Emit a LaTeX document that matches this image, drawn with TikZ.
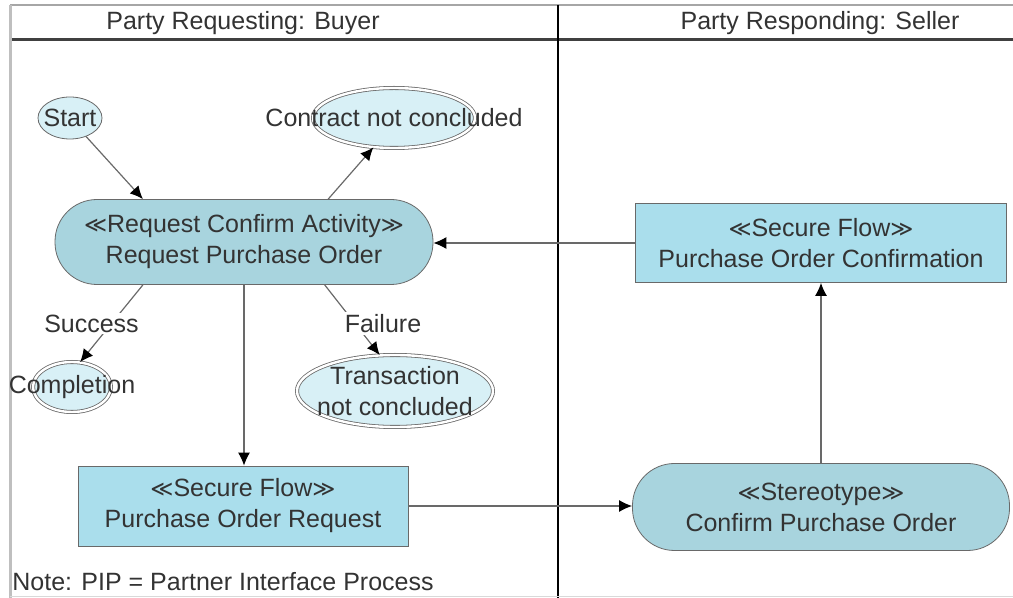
\documentclass[tikz,border=0pt]{standalone}
\usepackage{fontspec}
\setmainfont{Liberation Sans}
\newfontfamily\symfont{DejaVu Sans}
\usepackage{tikz}
\usetikzlibrary{arrows.meta, shapes.geometric, calc}
\definecolor{boxblue}{RGB}{170,222,236}
\definecolor{actblue}{RGB}{168,212,222}
\definecolor{endblue}{RGB}{216,240,246}
\definecolor{textgray}{RGB}{51,51,51}
\definecolor{linegray}{RGB}{105,105,105}
\newcommand{\stype}[1]{{\symfont\fontsize{11}{15.5}\selectfont ≪}#1{\symfont\fontsize{11}{15.5}\selectfont ≫}}

\begin{document}
\begin{tikzpicture}[
    x=0.5pt, y=-0.5pt,
    font=\fontsize{12.5}{15.5}\selectfont,
    every node/.style={text=textgray},
    flowbox/.style={rectangle, draw=linegray, fill=boxblue, align=center, inner sep=0pt},
    activity/.style={rectangle, rounded corners=21pt, draw=linegray, fill=actblue, align=center, inner sep=0pt},
    startstate/.style={ellipse, draw=linegray, fill=endblue, inner sep=0pt},
    endstate/.style={ellipse, draw=linegray, double=white, double distance=1.2pt, fill=endblue, inner sep=0pt},
    arrow/.style={draw=linegray, line width=0.6pt, -{Latex[length=6.5pt, width=6pt, color=black]}}
]
\useasboundingbox (0,0) rectangle (1013,598);

% Swimlanes
\draw[gray!70, line width=0.8pt] (10,5) -- (1013,5);
\draw[black!75, line width=1.5pt] (10,40) -- (1013,40);
\draw[gray!50, line width=1.5pt] (10,5) -- (10,598);
\draw[black, line width=0.7pt] (558,5) -- (558,598);
\draw[gray!30, line width=0.5pt] (10,597) -- (1013,597);
\node (buyer) at (243,23) {Party Requesting: Buyer};
\node (seller) at (820,23) {Party Responding: Seller};

% Buyer side
\node[startstate, minimum width=32pt, minimum height=21pt, label=center:Start] (start) at (70,118) {};
\node[endstate, minimum width=81pt, minimum height=30pt, label=center:Contract not concluded] (nocontract) at (394,118) {};
\node[activity, minimum width=189pt, minimum height=42.5pt] (act) at (244,242) {\stype{Request Confirm Activity}\\Request Purchase Order};
\node[endstate, minimum width=39pt, minimum height=25pt, label=center:Completion] (done) at (72,387) {};
\node[endstate, minimum width=98pt, minimum height=36pt, label={[align=center]center:Transaction\\not concluded}] (trans) at (395,391) {};
\node[flowbox, minimum width=165pt, minimum height=40pt] (poreq) at (243,506) {\stype{Secure Flow}\\Purchase Order Request};
\node[anchor=west, inner sep=1pt] (note) at (10,582) {Note: PIP = Partner Interface Process};

% Seller side
\node[flowbox, minimum width=185.5pt, minimum height=39.5pt] (conf) at (821,243) {\stype{Secure Flow}\\Purchase Order Confirmation};
\node[activity, minimum width=188.5pt, minimum height=43.5pt] (confirm) at (821,507) {\stype{Stereotype}\\Confirm Purchase Order};

% Arrows
\draw[arrow] (start.311) -- (act.157);
\draw[arrow] (act.27) -- (nocontract.235);
\draw[arrow] (act.203) -- node[pos=0.5, fill=white, inner sep=1pt, xshift=-10pt] (success) {Success} (done.72);
\draw[arrow] (act.332) -- node[pos=0.55, fill=white, inner sep=1pt, xshift=14pt] (failure) {Failure} (trans.113);
\draw[arrow] (act.south) -- (act.south |- poreq.north);
\draw[arrow] (poreq.east) -- (poreq.east -| confirm.west);
\draw[arrow] (confirm.north) -- (conf.south);
\draw[arrow] (conf.west) -- (conf.west -| act.east);
\end{tikzpicture}
\end{document}
